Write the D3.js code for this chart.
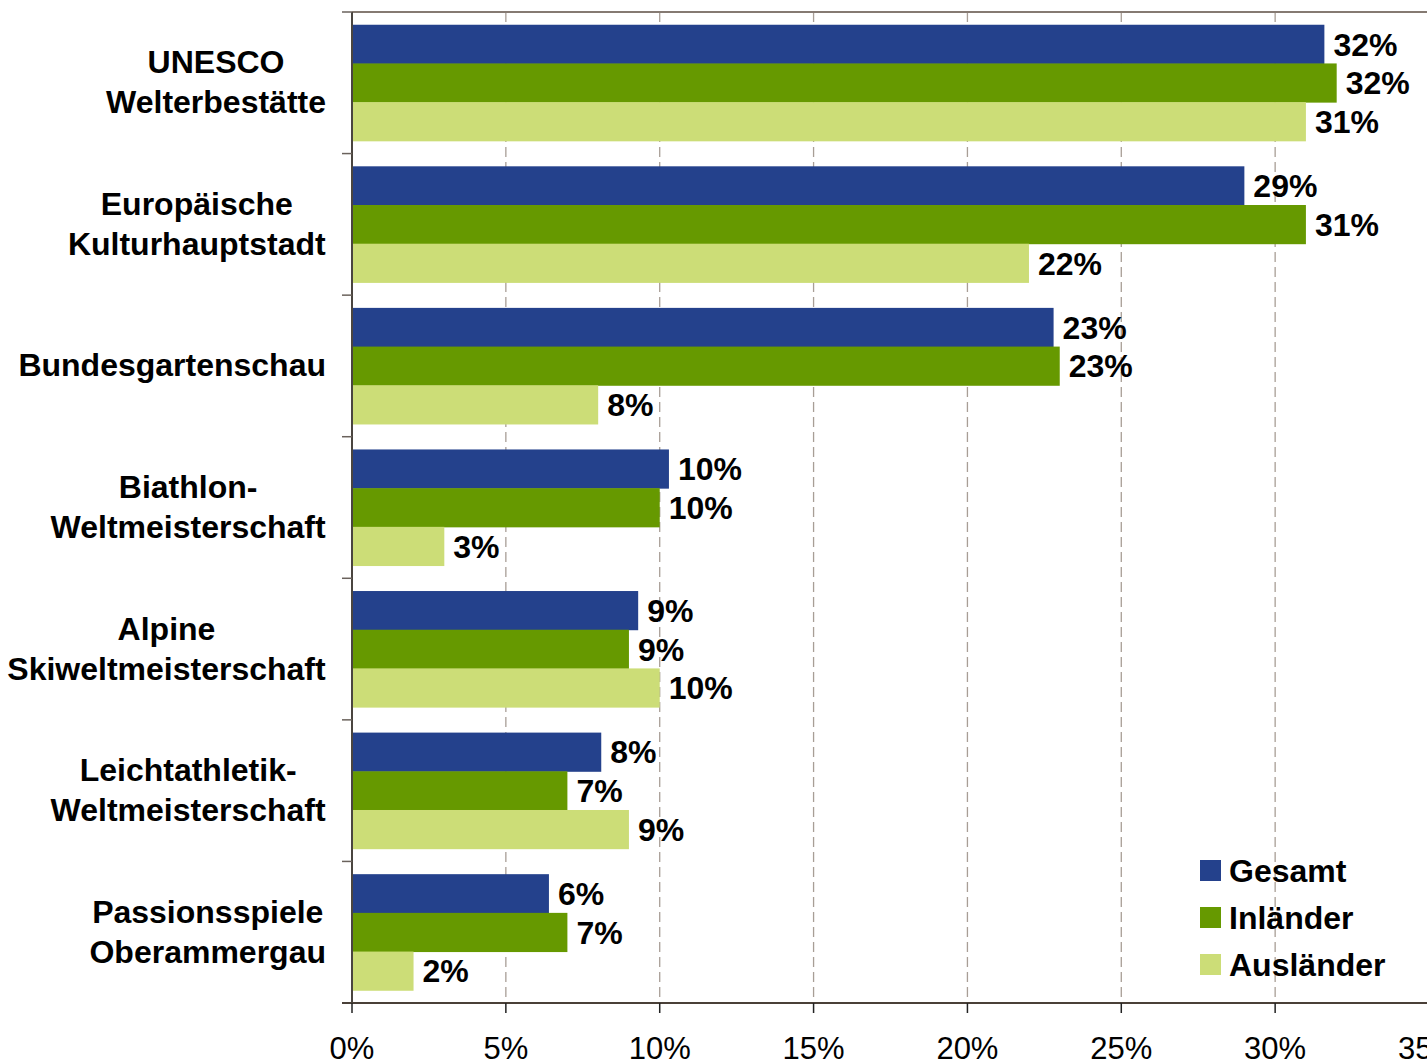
<!DOCTYPE html>
<html>
<head>
<meta charset="utf-8">
<script src="https://cdn.jsdelivr.net/npm/d3@7"></script>
<style>
    html, body { margin: 0; padding: 0; background: #fff; }
    svg { display: block; font-family: Arial, "Liberation Sans", sans-serif; }
</style>
</head>
<body>
<div id="chart"></div>
<script>
// Events chart: Gesamt / Inländer / Ausländer

const categories = [
    ['UNESCO', 'Welterbestätte'],
    ['Europäische', 'Kulturhauptstadt'],
    ['Bundesgartenschau'],
    ['Biathlon-', 'Weltmeisterschaft'],
    ['Alpine', 'Skiweltmeisterschaft'],
    ['Leichtathletik-', 'Weltmeisterschaft'],
    ['Passionsspiele', 'Oberammergau']
];
const seriesNames = ['Gesamt', 'Inländer', 'Ausländer'];
const gesamt    = [31.6, 29.0, 22.8, 10.3, 9.3, 8.1, 6.4];
const inlaender = [32.0, 31.0, 23.0, 10.0, 9.0, 7.0, 7.0];
const auslaender = [31.0, 22.0, 8.0, 3.0, 10.0, 9.0, 2.0];
const xTicks = [0, 5, 10, 15, 20, 25, 30, 35];

const colors = ['#24418c', '#669900', '#ccdd77'];
const seriesValues = [gesamt, inlaender, auslaender];

const chartW = 1427, chartH = 1062;
const plotLeft = 352, plotTop = 12, plotBottom = 1003;
const boldSize = 32;

const svg = d3.select('#chart').append('svg')
    .attr('width', chartW)
    .attr('height', chartH);

const x = d3.scaleLinear().domain([0, 35]).range([plotLeft, 1429]);

const y0 = d3.scaleBand()
    .domain(d3.range(categories.length))
    .range([plotTop, plotBottom])
    .paddingInner(0.18)
    .paddingOuter(0.09);

const y1 = d3.scaleBand()
    .domain(d3.range(seriesNames.length))
    .range([0, y0.bandwidth()]);

// Gridlines (dashed)
svg.append('g')
    .selectAll('line')
    .data(xTicks.filter(t => t > 0))
    .enter()
    .append('line')
    .attr('x1', d => x(d)).attr('x2', d => x(d))
    .attr('y1', plotTop).attr('y2', plotBottom)
    .attr('stroke', '#a89e96')
    .attr('stroke-width', 1.3)
    .attr('stroke-dasharray', '10,5');

// Top frame line
svg.append('line')
    .attr('x1', plotLeft).attr('x2', chartW)
    .attr('y1', plotTop).attr('y2', plotTop)
    .attr('stroke', '#857a72')
    .attr('stroke-width', 2);

// Bars
const groups = svg.append('g')
    .selectAll('g')
    .data(categories)
    .enter()
    .append('g')
    .attr('transform', (d, i) => `translate(0,${y0(i)})`);

groups.each(function(c, i) {
    const g = d3.select(this);
    seriesValues.forEach((vals, s) => {
        g.append('rect')
            .attr('x', x(0))
            .attr('y', y1(s))
            .attr('width', x(vals[i]) - x(0))
            .attr('height', y1.bandwidth() + 0.5)
            .attr('fill', colors[s]);
        g.append('text')
            .attr('x', x(vals[i]) + 9)
            .attr('y', y1(s) + y1.bandwidth() / 2)
            .attr('dy', '0.36em')
            .attr('font-size', boldSize)
            .attr('font-weight', 'bold')
            .attr('fill', '#000')
            .text(Math.round(vals[i]) + '%');
    });
});

// Category labels (lines centred, block right-aligned)
const step = y0.step();
categories.forEach((lines, i) => {
    const cy = plotTop + step * i + step / 2;
    const t = svg.append('text')
        .attr('font-size', boldSize)
        .attr('font-weight', 'bold')
        .attr('text-anchor', 'middle')
        .attr('fill', '#000');
    lines.forEach((line, k) => {
        t.append('tspan')
            .attr('x', 0)
            .attr('y', (k - (lines.length - 1) / 2) * 40 - 1)
            .attr('dy', '0.36em')
            .text(line);
    });
    const bb = t.node().getBBox();
    t.attr('transform', `translate(${326 - (bb.x + bb.width)},${cy})`);
});

// Left axis
svg.append('line')
    .attr('x1', plotLeft).attr('x2', plotLeft)
    .attr('y1', plotTop).attr('y2', plotBottom)
    .attr('stroke', '#4a4540')
    .attr('stroke-width', 2);

svg.append('g')
    .selectAll('line')
    .data(d3.range(categories.length + 1))
    .enter()
    .append('line')
    .attr('x1', plotLeft - 10).attr('x2', plotLeft)
    .attr('y1', d => plotTop + step * d).attr('y2', d => plotTop + step * d)
    .attr('stroke', '#6a625c')
    .attr('stroke-width', 1.5);

// Bottom axis
svg.append('line')
    .attr('x1', plotLeft - 10).attr('x2', chartW)
    .attr('y1', plotBottom).attr('y2', plotBottom)
    .attr('stroke', '#4a4038')
    .attr('stroke-width', 2);

const xt = svg.append('g')
    .selectAll('g')
    .data(xTicks)
    .enter()
    .append('g');

xt.append('line')
    .attr('x1', d => x(d)).attr('x2', d => x(d))
    .attr('y1', plotBottom).attr('y2', plotBottom + 10)
    .attr('stroke', '#222')
    .attr('stroke-width', 1.5);

xt.append('text')
    .attr('x', d => x(d))
    .attr('y', 1059)
    .attr('text-anchor', 'middle')
    .attr('font-size', 31)
    .attr('fill', '#000')
    .text(d => d + '%');

// Legend
const legend = svg.append('g');
seriesNames.forEach((name, s) => {
    const ly = 860 + s * 47;
    legend.append('rect')
        .attr('x', 1200).attr('y', ly)
        .attr('width', 21).attr('height', 21)
        .attr('fill', colors[s]);
    legend.append('text')
        .attr('x', 1229).attr('y', ly + 10.5)
        .attr('dy', '0.36em')
        .attr('font-size', boldSize)
        .attr('font-weight', 'bold')
        .attr('fill', '#000')
        .text(name);
});
</script>
</body>
</html>
